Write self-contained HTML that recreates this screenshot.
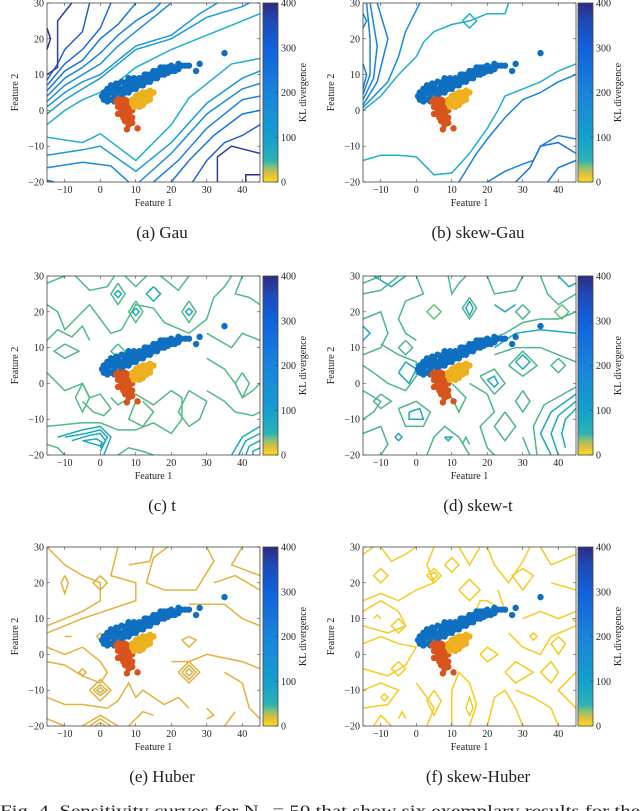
<!DOCTYPE html>
<html><head><meta charset="utf-8"><style>
html,body{margin:0;padding:0;background:#fff;width:640px;height:811px;overflow:hidden}
svg{display:block}
text{font-family:"Liberation Serif",serif;fill:#222}
</style></head><body>
<svg id="fig" width="640" height="811" viewBox="0 0 640 811" xmlns="http://www.w3.org/2000/svg">
<defs>
<linearGradient id="parula" x1="0" y1="1" x2="0" y2="0">
<stop offset="0" stop-color="#f6e11c"/><stop offset="0.04" stop-color="#e8bf3a"/>
<stop offset="0.08" stop-color="#8cc46c"/><stop offset="0.12" stop-color="#2db2b6"/>
<stop offset="0.25" stop-color="#13a0cf"/><stop offset="0.5" stop-color="#1983db"/>
<stop offset="0.75" stop-color="#0f62dc"/><stop offset="0.9" stop-color="#1f49b5"/>
<stop offset="1" stop-color="#2e2b82"/></linearGradient>
</defs>
</svg>
<script>
// ---- data ----
const xTicks=[-10,0,10,20,30,40];
const yTicks=[-20,-10,0,10,20,30];
const cbTicks=[0,100,200,300,400];
const captions=["(a) Gau","(b) skew-Gau","(c) t","(d) skew-t","(e) Huber","(f) skew-Huber"];
const blueCluster=[[1,3],[1,5],[2,4],[2,6],[3,3],[3,5],[3,7],[4,4],[4,6],[5,5],[5,7],[6,4],[6,6],[6,8],[7,5],[7,7],[8,5],[8,7],[8,9],[9,6],[9,8],[10,6],[10,8],[11,7],[11,9],[12,7],[12,9],[13,8],[13,10],[14,8],[14,10],[15,9],[15,11],[16,9],[16,11],[17,10],[17,12],[18,10],[18,12],[19,11],[20,11],[20,12.5],[21,12],[22,13],[22,11.5],[24,12.5],[25,12.5],[27,11],[28,13],[35,16],[2,2.5],[4,2.5],[0.5,4],[3.5,6],[5.5,6],
[2,5],[4,5],[6,5],[7,6],[8,6],[9,7],[10,7],[11,8],[12,8],[13,9],[14,9],[15,10],[16,10],[17,11],[18,11],[19,12],[4.5,7.5],[7.5,8],[9.5,9],[12.5,10],[19,10.5],[21,11],[23,12.5]];
const orangeCluster=[[5,3],[6,3],[7,3],[5,1],[6,1],[7,1],[8,1],[5,-1],[6,-1],[7,-1],[8,-1],[7,-3],[8,-2],[9,-2],[9,-3.5],[8,-4],[6,2],[8,2.5],[9,0],[7.5,-5.3],[10.5,-5],[6,0],[7,0],[5.5,2],[7.5,-2],[8,0],[6.5,-2],[8.5,-3],[7,2],[4.5,2.5]];
const yellowCluster=[[9,3],[10,3],[11,3],[12,3],[13,4],[14,4],[15,5],[10,1.5],[11,2],[12,1.5],[13,2.5],[14,5.5],[11,4.5],[12,5],[13,5],[9,2],[10,4],[9.5,1],[12,4],[14,3],[11,1]];
// contour lines per panel: [colour, x1,y1,x2,y2,...] in data units
const contoursA=[
["#1fb0c6",-15,-4,-10,0,-5,3,0,5,5,8,10,12,20,17,30,21,40,25,45,27],
["#1fb0c6",-15,-7.5,-5,-9,0,-6.5,10,-14,20,-4,25,3.5,37,13,45,14.5],
["#1a9dd6",-15,-1,-10,3,-5,6,0,9,5,13,10,17,20,20,30,26,40,29,42,30],
["#1b97d8",-15,1,-10,5,-5,8,0,10,5,14,10,18,20,21,28,27,33,30],
["#1a8ddc",-15,2.5,-10,7,-5,10,0,13,5,18,10,22,15,26,20,30],
["#1a82dd",-15,4,-10,9,-5,12,0,16,5,21,10,25,15,28,17,30],
["#1676dc",-15,5.5,-10,11,-5,14,0,20,5,24,10,30],
["#1e6cd8",-15,7,-10,13,-5,17,0,23,3,30],
["#2560cc",-15,8.5,-12,13,-10,17,-5,22,-3,30],
["#2b3f9e",-15,10,-12,12,-12,25,-8,30],
["#2e2f88",-15,17,-14,20,-15,23],
["#1a9dd6",-15,-12.5,-5,-11,0,-10,10,-17,20,-9,30,2,40,9,45,11],
["#1a8ddc",-15,-16,-5,-14.5,3,-15.5,8,-20],
["#1a8ddc",11,-20,20,-12,30,-1,40,6,45,7.5],
["#1a82dd",15,-20,22,-14,30,-5,40,3,45,4],
["#1676dc",20,-20,25,-14,32,-7,40,-1,45,0],
["#2560cc",26,-20,30,-14,35,-9,40,-7,45,-4],
["#2b3f9e",33,-20,33,-13,37,-10,45,-12],
["#2e2f88",41,-20,41,-18,45,-18],
["#1676dc",-15,-19.5,-13,-20]];
const contoursB=[
["#1fb0c6",-15,0,-10,4,-5,10,0,15,2,19,5,22,10,24,15,25,20,27,25,27,26,30],
["#1fb0c6",13,25,15,27,17,25,15,23,13,25],
["#1fb0c6",-15,-14,-10,-12.5,-5,-12.5,0,-13,5,-18,10,-17.5,15,-12,20,-5,23,0,25,4,30,6,35,8,40,11,45,13],
["#1a82dd",-15,1.5,-11,8,-8,20,-11,30],
["#1a82dd",-15,3,-12,9,-11,18,-13,30],
["#1a82dd",-15,4.5,-13,10,-13,20,-14,30],
["#1a82dd",-15,6,-14,10,-15,13],
["#1a82dd",-15,23,-14,25,-15,27],
["#1a8ddc",-15,0.8,-8,8,-5,15,-3,22,0,28,1,30],
["#1a82dd",12,-20,17,-12,20,-8,25,-2,30,3,35,5,40,8,45,10],
["#1a82dd",20,-20,25,-17,30,-15,33,-14,35,-10,40,-7,45,-8],
["#1a76dd",28,-20,32,-16,35,-10,40,-9,45,-12],
["#1a76dd",37,-20,40,-16,45,-14]];
const contoursC=[
["#52b98a",-15,28,-10,30],["#52b98a",-7,30,-3,26,2,27,4,30],["#52b98a",7,30,10,27,13,30],["#52b98a",17,30,22,26,25,30],
["#52b98a",-15,22,-12,20,-10,15,-7,18,-3,22,0,18,3,14,6,15,10,22,15,21,18,17,25,14,30,18,32,24,35,27,37,30],
["#52b98a",40,30,38,25,42,24,45,22],
["#1fa9b6",5,26,6,25,5,24,4,25,5,26],["#1fa9b6",10,21,11,20,10,19,9,20,10,21],["#1fa9b6",25,21,26,20,25,19,24,20,25,21],
["#1fa9b6",15,27,17,25,15,23,13,25,15,27],["#52b98a",10,23,12,20,10,17,8,20,10,23],["#52b98a",25,23,27,20,25,17,23,20,25,23],["#52b98a",5,28,7,25,5,22,3,25,5,28],
["#52b98a",-10,11,-6,9,-10,7,-13,9,-10,11],["#52b98a",5,11,7,9,5,7,3,9,5,11],
["#52b98a",-15,3,-10,-2,-5,0,-3,-4,0,-3,3,-7,1,-9,-2,-8,-5,-5],
["#52b98a",-7,-4,-5,-8,-3,-4,-5,0,-7,-4],
["#52b98a",-15,-12,-5,-11,0,-11,5,-13,10,-13,15,-11,20,-14,23,-10,23,-4,20,-2,15,-6,10,-3,5,-6,3,-4],
["#1fa9b6",-12,-15,-5,-13,0,-12,3,-15,1,-20],["#1fa9b6",-10,-15,-4,-14,0,-13,2,-15,0,-19],["#1fa9b6",-8,-16,-3,-14.5,0,-14,1.5,-16,0,-18],["#1fa9b6",-5,-16,-1,-15.5,0.5,-16.5,0,-17.5,-5,-16],
["#1fa9b6",45,-12,40,-15,37,-20],["#1fa9b6",45,-14,41,-16,39,-20],["#1fa9b6",45,-16,42,-17.5,41,-20],["#1fa9b6",45,-18,43,-19,43,-20],
["#52b98a",30,7,35,4,38,0,40,-4,43,-2,45,0],["#52b98a",30,-2,35,-5,38,-8,43,-9,45,-8],["#52b98a",30,14,37,10,40,14,45,12],
["#52b98a",40,3,42,0,40,-4,38,0,40,3],["#52b98a",25,-2,30,-5,28,-10,25,-12,22,-8,25,-2],["#52b98a",12,-5,15,-8,12,-12,8,-10,10,-5],
["#52b98a",-15,-17,-12,-18,-10,-20],["#52b98a",5,-20,8,-18,12,-19,15,-20],["#52b98a",-15,12,-12,15,-8,13,-5,16,-3,12]];
const contoursD=[
["#4fb58f",-15,28,-10,30],["#1fa9b6",-12,30,-7,27,-3,30],["#4fb58f",-15,25,-10,26,-5,30],
["#4fb58f",0,30,2,25,-3,23,-5,18,-3,14,0,12],["#6cbf78",5,22,7,20,5,18,3,20,5,22],
["#4fb58f",9,30,10,25,12,28,14,30],["#4fb58f",15,24,17,21,15,18,13,21,15,24],["#1fa9b6",15,23,16,21,15,19,14,21,15,23],
["#4fb58f",20,30,22,25,28,26,30,30],["#1fa9b6",22,22,25,20,28,22],["#4fb58f",30,22,32,20,30,18,28,20,30,22],
["#4fb58f",35,30,37,25,40,22,45,25],["#1fa9b6",40,30,43,27,45,28],["#6cbf78",41,22,43,20,41,18,39,20,41,22],
["#4fb58f",-15,18,-10,20,-8,14,-10,10,-15,8],["#1fa9b6",-15,16,-13,14,-15,12],
["#4fb58f",-10,11,-5,8,0,6,0,2,-3,-2,-8,0,-12,3,-15,5],["#1fa9b6",-5,3,-3,6,0,4,-2,0,-5,3],
["#4fb58f",-3,12,-1,10,-3,8,-5,10,-3,12],["#4fb58f",-15,-2,-10,-5,-12,-8,-15,-10],
["#4fb58f",-10,-3,-7,-5,-10,-7,-12,-5,-10,-3],["#4fb58f",-5,-7,0,-5,4,-8,2,-12,-3,-12,-5,-7],["#1fa9b6",-2,-8,1,-7,2,-10,-2,-10,-2,-8],
["#4fb58f",-15,-14,-10,-12,-8,-17,-10,-20],["#1fa9b6",-6,-15,-5,-14,-4,-15,-5,-16,-6,-15],
["#4fb58f",3,-20,5,-15,8,-12,12,-15,15,-20],["#1fa9b6",8,-15,10,-15,9,-16,8,-15],["#4fb58f",13,-17,14,-15,15,-17],
["#4fb58f",15,0,20,-3,22,-8,18,-12,20,-18,22,-20],["#4fb58f",25,-8,28,-12,25,-16,22,-12,25,-8],
["#4fb58f",18,2,22,4,25,0,22,-3,18,2],["#1fa9b6",20,1,22,2,23,0,22,-1,20,1],
["#4fb58f",20,12,25,14,30,17,35,18,40,18,45,20],["#1fa9b6",22,10,28,14,35,15,45,14],
["#4fb58f",22,8,28,10,35,10,40,8,45,6],["#1fa9b6",28,6,30,4,32,6,30,8,28,6],["#4fb58f",26,5,30,2,34,5,30,9,26,5],
["#4fb58f",40,7,42,5,40,3,38,5,40,7],["#4fb58f",30,-2,32,-5,30,-8,28,-5,30,-2],
["#1fa9b6",45,-3,38,-8,35,-14,38,-20],["#1fa9b6",45,-5,40,-9,38,-14,40,-20],["#1fa9b6",45,-7,42,-10,41,-14,42,-18],["#4fb58f",45,-1,36,-6,33,-12,34,-20],
["#4fb58f",30,-15,32,-20],["#4fb58f",5,0,10,-4,12,-8,14,-4,10,0]];
const contoursE=[
["#e2b23e",-15,30,-10,25,-5,22,0,20,0,15,-5,12,-15,8],["#e2b23e",-10,22,-9,20,-10,17,-11,20,-10,22],
["#e2b23e",0,22,2,20,0,18,-2,20,0,22],["#e2b23e",5,30,3,22,10,20,10,15,-5,10,-15,6],
["#e2b23e",8,25,14,26,15,30],["#e2b23e",19,30,15,27,13,20,18,18,27,18,32,26,30,30],
["#e2b23e",40,30,37,25,45,22],["#e2b23e",32,20,38,22,45,18],["#e2b23e",25,14,35,14,40,10,45,8],
["#e2b23e",-15,2,-10,0,-5,2,0,-2,2,-5,0,-8,-5,-6,-10,-3,-15,-2],["#e2b23e",-10,5,-8,5],["#e2b23e",0,6,1,5,0,4,-1,5,0,6],
["#e2b23e",20,-2,25,-2,30,0,40,-2,45,-4],["#e2b23e",35,-5,40,-8,42,-15,45,-18],["#e2b23e",25,5,27,4,25,2,23,4,25,5],
["#e2b23e",-5,-4,-4,-5,-5,-6,-6,-5,-5,-4],["#e2b23e",-15,-12,-10,-14,-5,-14,2,-15,5,-13,8,-8,10,-12,12,-10,18,-14,22,-12,25,-15],
["#e2b23e",-3,-10,0,-7,3,-10,0,-13,-3,-10],["#d6b24a",-2,-10,0,-8.5,2,-10,0,-11.5,-2,-10],["#c9b657",-1,-10,0,-9.3,1,-10,0,-10.7,-1,-10],
["#e2b23e",22,-5,25,-2,28,-5,25,-8,22,-5],["#d6b24a",23,-5,25,-3,27,-5,25,-7,23,-5],["#c9b657",24,-5,25,-4,26,-5,25,-6,24,-5],
["#e2b23e",-5,-20,0,-17,5,-20],["#d6b24a",-3,-20,0,-18,3,-20],["#b9ba62",-1.5,-20,0,-19,1.5,-20],
["#e2b23e",8,-20,12,-16,15,-17],["#e2b23e",30,-15,32,-17,30,-18],["#e2b23e",35,-20,38,-16],["#e2b23e",-15,-18,-10,-20]];
const contoursF=[
["#f3cc22",-15,28,-12,30],["#f3cc22",-10,30,-7,26,-3,28,0,30],["#f3cc22",-10,24,-8,22,-10,20,-12,22,-10,24],
["#f3cc22",5,30,3,25,5,20,0,18,-5,15,-10,17,-15,15],["#f3cc22",5,24,7,22,5,20,3,22,5,24],["#f3cc22",4,22,5,23,6,22,5,21,4,22],
["#f3cc22",8,25,10,23,12,25,10,27,8,25],["#f3cc22",12,30,15,25,18,30],["#f3cc22",20,30,22,25,26,20,30,26,32,30],
["#f3cc22",30,24,33,22,30,18,27,22,30,24],["#f3cc22",35,30,38,25,45,28],["#f3cc22",38,20,45,18],
["#f3cc22",-15,12,-10,15,-5,12,-3,8,-8,6,-15,8],["#f3cc22",-12,10,-11,11,-10,10],["#f3cc22",-5,10,-3,8,-5,6,-7,8,-5,10],
["#f3cc22",-15,3,-10,5,-5,3,0,2,-3,-3,-8,-6,-15,-4],["#f3cc22",-5,-2,-3,-4,-5,-6,-7,-4,-5,-2],
["#f3cc22",-15,-10,-10,-8,-5,-10,-8,-14,-15,-15],["#f3cc22",-10,-12,-9,-11,-8,-12,-9,-13,-10,-12],
["#f3cc22",-12,-20,-10,-17,-7,-20],["#f3cc22",-5,-18,-4,-16,-3,-18],
["#f3cc22",0,-8,3,-12,5,-15,3,-20],["#f3cc22",5,-10,7,-13,5,-17,3,-13,5,-10],
["#f3cc22",10,-20,10,-10,12,-5,15,-8,17,-14,15,-20],["#f3cc22",14,-15,15,-12,16,-15,15,-17,14,-15],
["#f3cc22",20,-20,22,-12,25,-10,28,-15,30,-20],["#f3cc22",25,-5,28,-2,33,-5,28,-8,25,-5],
["#f3cc22",18,0,20,2,23,0,20,-2,18,0],["#f3cc22",15,8,18,15,20,15,25,12,23,18],["#f3cc22",12,18,15,15,18,18,15,21,12,18],
["#f3cc22",30,10,35,12,40,10,45,12],["#f3cc22",26,6,30,2,35,0,38,5,45,8],["#f3cc22",32,5,33,6,34,5,33,4,32,5],
["#f3cc22",28,-10,33,-12,38,-15,40,-20],["#f3cc22",35,-5,38,-8,40,-5,38,-2,35,-5],["#f3cc22",45,-5,40,-10,45,-15],
["#f3cc22",40,5,42,3,40,0,38,3,40,5],["#f3cc22",44,10,45,9]];
const panels=[
{cap:0,L:47,T:3,cb:263,cont:contoursA},{cap:1,L:363,T:3,cb:578,cont:contoursB},
{cap:2,L:47,T:276,cb:263,cont:contoursC},{cap:3,L:363,T:276,cb:578,cont:contoursD},
{cap:4,L:47,T:547,cb:263,cont:contoursE},{cap:5,L:363,T:547,cb:578,cont:contoursF}];
// ---- draw ----
const NS="http://www.w3.org/2000/svg";
const svg=document.getElementById('fig');
function mk(tag,attrs,parent){const e=document.createElementNS(NS,tag);for(const k in attrs)e.setAttribute(k,attrs[k]);(parent||svg).appendChild(e);return e;}
const W=213,H=179,X0=-15,X1=45,Y0=-20,Y1=30;
panels.forEach((p,i)=>{
  const sx=x=>p.L+(x-X0)/(X1-X0)*W, sy=y=>p.T+(Y1-y)/(Y1-Y0)*H;
  const g=mk('g',{});
  
  
  const cg=mk('g',{},g);
  
  
  p.cont.forEach(c=>{
    const pts=[];for(let k=1;k<c.length;k+=2)pts.push(sx(c[k]).toFixed(1)+','+sy(c[k+1]).toFixed(1));
    const pl=mk('polyline',{points:pts.join(' '),fill:'none',stroke:c[0],'stroke-width':1.5,'stroke-linejoin':'miter'},cg);
    
    
  });
  [[blueCluster,'#0f6fc0','blue-cluster'],[orangeCluster,'#d9531c','orange-cluster'],[yellowCluster,'#edb120','yellow-cluster']].forEach(([arr,col,nm])=>{
    const sg=mk('g',{fill:col},g);
    
    
    arr.forEach(d=>{const c=mk('circle',{cx:sx(d[0]),cy:sy(d[1]),r:3.2},sg);
      
      });
  });
  const fr=mk('rect',{x:p.L,y:p.T,width:W,height:H,fill:'none',stroke:'#444','stroke-width':0.8},g);
  
  
  xTicks.forEach(v=>{const x=sx(v);
    mk('line',{x1:x,y1:p.T+H,x2:x,y2:p.T+H-3,stroke:'#444','stroke-width':0.6},g);
    mk('line',{x1:x,y1:p.T,x2:x,y2:p.T+3,stroke:'#444','stroke-width':0.6},g);
    const t=mk('text',{x:x,y:p.T+H+11,'text-anchor':'middle','font-size':10},g);t.textContent=v<0?'\u2212'+(-v):v;
    
    });
  yTicks.forEach(v=>{const y=sy(v);
    mk('line',{x1:p.L,y1:y,x2:p.L+3,y2:y,stroke:'#444','stroke-width':0.6},g);
    mk('line',{x1:p.L+W,y1:y,x2:p.L+W-3,y2:y,stroke:'#444','stroke-width':0.6},g);
    const t=mk('text',{x:p.L-3,y:y+3.5,'text-anchor':'end','font-size':10},g);t.textContent=v<0?'\u2212'+(-v):v;
    
    });
  const xl=mk('text',{x:p.L+W/2,y:p.T+H+24,'text-anchor':'middle','font-size':10},g);xl.textContent='Feature 1';
  
  
  const yl=mk('text',{x:0,y:0,'text-anchor':'middle','font-size':10,transform:`translate(${p.L-29},${p.T+H/2}) rotate(-90)`},g);yl.textContent='Feature 2';
  
  
  const cb=mk('rect',{x:p.cb,y:p.T,width:15,height:H,fill:'url(#parula)',stroke:'#444','stroke-width':0.8},g);
  
  
  cbTicks.forEach(v=>{const y=p.T+H-v/400*H;
    mk('line',{x1:p.cb+15,y1:y,x2:p.cb+12,y2:y,stroke:'#444','stroke-width':0.6},g);
    const t=mk('text',{x:p.cb+18,y:y+3.5,'font-size':10},g);t.textContent=v;
    
    });
  const kl=mk('text',{x:0,y:0,'text-anchor':'middle','font-size':10,transform:`translate(${p.cb+43},${p.T+H/2}) rotate(-90)`},g);kl.textContent='KL divergence';
  
  
  const cp=mk('text',{x:p.L+115,y:p.T+235,'text-anchor':'middle','font-size':17},g);cp.textContent=captions[p.cap];
  
  
});
const fc=mk('text',{x:0,y:816,'font-size':16,textLength:640,lengthAdjust:'spacingAndGlyphs'});
fc.textContent='Fig. 4.  Sensitivity curves for N\u2009\u2009 = 50 that show six exemplary results for the';


</script>
</body></html>
